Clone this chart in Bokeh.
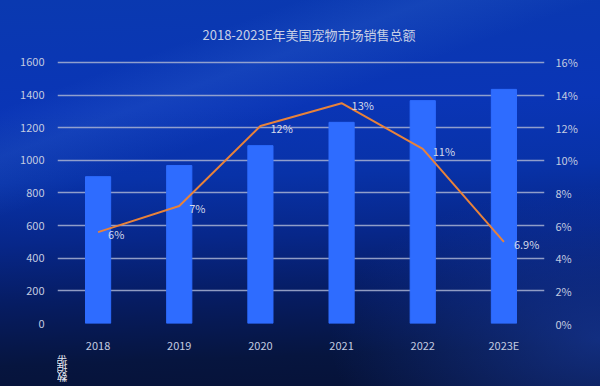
from bokeh.plotting import figure
from bokeh.layouts import column
from bokeh.models import (ColumnDataSource, Range1d, LinearAxis, FactorRange, Legend, LegendItem,
                          PrintfTickFormatter, FixedTicker, GlobalInlineStyleSheet, Title)
from bokeh.core.properties import value
from bokeh.embed import file_html
from bokeh.resources import INLINE

years = ["2018", "2019", "2020", "2021", "2022", "2023E"]
gmv = [900, 968, 1090, 1233, 1366, 1435]
yoy = [5.6, 7.2, 12.1, 13.5, 10.7, 5.0]
yoy_labels = ["6%", "7%", "12%", "13%", "11%", "6.9%"]
left_ticks = [0, 200, 400, 600, 800, 1000, 1200, 1400, 1600]
right_ticks = [0, 2, 4, 6, 8, 10, 12, 14, 16]
series_names = ["GMV", "YOY"]
source_note = "数据来源:STATISTA"

FONT = "Noto Sans CJK SC"
TXT = "#c3cbe0"
BAR = "#2e6cff"
LINE = "#e8823a"

css = GlobalInlineStyleSheet(css="""
html, body {
  background:
    linear-gradient(160deg, rgba(255,255,255,0) 18%, rgba(90,150,235,0.13) 26%, rgba(255,255,255,0) 36%),
    radial-gradient(ellipse 45% 40% at 100% 88%, rgba(30,70,190,0.5) 0%, rgba(30,70,190,0) 100%),
    linear-gradient(178deg, #0a39b0 0%, #0a35b6 28%, #0832a8 45%, #07278a 60%, #061c62 75%, #06153f 90%, #061238 100%);
  overflow: hidden;
}
""")

src = ColumnDataSource(dict(year=years, gmv=gmv, yoy=yoy, lab=yoy_labels))

p = figure(width=600, height=355, frame_width=487,
           x_range=FactorRange(*years, factor_padding=0, range_padding=0),
           y_range=Range1d(0, 1612), output_backend="svg", toolbar_location=None,
           min_border_left=57, min_border_right=56, min_border_top=60, min_border_bottom=0,
           background_fill_alpha=0, border_fill_alpha=0, outline_line_color=None)
p.stylesheets = [css]

p.add_layout(Title(text="2018-2023E年美国宠物市场销售总额", align="left", offset=145, standoff=33,
                   text_color="#c8d0e6", text_font=FONT, text_font_size="13px",
                   text_font_style="normal"), "above")

p.extra_y_ranges = {"yoy": Range1d(0, 16.12)}

p.vbar(x="year", top="gmv", width=0.31, color=BAR, source=src)
p.line(x="year", y="yoy", y_range_name="yoy", line_color=LINE, line_width=2, source=src)
p.text(x="year", y="yoy", text="lab", y_range_name="yoy", source=src, x_offset=10, y_offset=2,
       text_baseline="middle", text_align="left", text_color="#d4d9ea",
       text_font=value(FONT), text_font_size="11px")

p.xgrid.visible = False
p.ygrid.ticker = FixedTicker(ticks=left_ticks)
p.ygrid.grid_line_color = "#a8b2d2"
p.ygrid.grid_line_width = 1.5
p.ygrid.grid_line_alpha = 0.85


def style_axis(ax, standoff):
    ax.axis_line_color = None
    ax.major_tick_line_color = None
    ax.minor_tick_line_color = None
    ax.major_tick_out = 0
    ax.major_tick_in = 0
    ax.minor_tick_out = 0
    ax.axis_label_standoff = 0
    ax.major_label_text_color = TXT
    ax.major_label_text_font = FONT
    ax.major_label_text_font_size = "11px"
    ax.major_label_standoff = standoff


style_axis(p.xaxis[0], 13)
style_axis(p.yaxis[0], 13)
p.yaxis[0].ticker = FixedTicker(ticks=left_ticks)

ry = LinearAxis(y_range_name="yoy", ticker=FixedTicker(ticks=right_ticks),
                formatter=PrintfTickFormatter(format="%d%%"))
style_axis(ry, 11)
p.add_layout(ry, "right")

# legend strip below the chart
p2 = figure(width=600, height=31, x_range=Range1d(0, 1), y_range=Range1d(0, 1),
            x_axis_type=None, y_axis_type=None, output_backend="svg", toolbar_location=None,
            min_border=0, min_border_left=0, min_border_right=0, min_border_top=0, min_border_bottom=0,
            background_fill_alpha=0, border_fill_alpha=0, outline_line_color=None)
p2.grid.visible = False
empty = ColumnDataSource(dict(x=[], top=[], y=[]))
r_bar = p2.vbar(x="x", top="top", width=0.3, color=BAR, source=empty)
r_line = p2.line(x="x", y="y", line_color=LINE, line_width=2, source=empty)

legend = Legend(items=[LegendItem(label=series_names[0], renderers=[r_bar]),
                       LegendItem(label=series_names[1], renderers=[r_line])],
                orientation="horizontal", location=(-3, 4), background_fill_alpha=0,
                border_line_color=None, padding=0, spacing=2, glyph_width=22, glyph_height=8,
                label_standoff=3, label_text_color=TXT, label_text_font=FONT,
                label_text_font_size="11px", label_height=14, margin=0,
                title=source_note, title_location="left", title_standoff=143,
                title_text_color="#e6e9f2", title_text_font=FONT, title_text_font_size="11px",
                title_text_font_style="normal")
p2.add_layout(legend, "center")

layout = column(p, p2, spacing=0)
open("out.html", "w").write(file_html(layout, INLINE))
